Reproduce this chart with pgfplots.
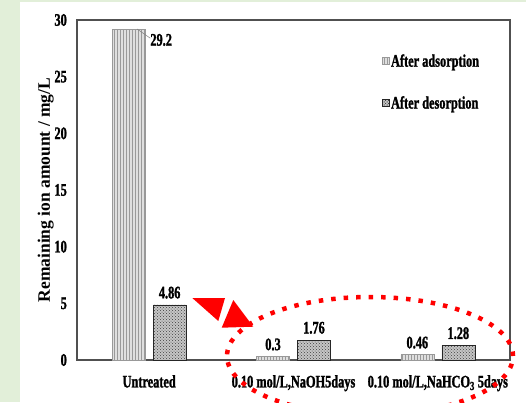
\documentclass[border=0pt]{standalone}
\usepackage{pgfplots}
\pgfplotsset{compat=1.18}
\usetikzlibrary{patterns}
\usepackage{fontspec}
\setmainfont{Liberation Serif}[FakeStretch=0.7, BoldFeatures={FakeBold=1.4}]
\newfontfamily\ylabfont{Liberation Serif}
\definecolor{bggreen}{RGB}{226,239,217}
\definecolor{axgray}{RGB}{80,80,80}
\newcommand{\lblfont}{\fontsize{17.6}{17.6}\selectfont\bfseries}
\begin{document}
\begin{tikzpicture}[x=1pt,y=1pt]
\useasboundingbox (0,0) rectangle (526,402);
\clip (0,0) rectangle (526,402);
\fill[white] (0,0) rectangle (526,402);
\fill[bggreen] (0,0) rectangle (20,402);
\fill[bggreen] (0,400) rectangle (526,402);
\begin{axis}[
  at={(77pt,42pt)}, anchor=south west,
  scale only axis, width=433pt, height=340pt,
  xmin=-0.5, xmax=2.5, ymin=0, ymax=30,
  ybar=8pt, bar width=33pt,
  axis line style={draw=axgray, line width=1.2pt},
  major tick length=0pt,
  xtick={0,1,2},
  xticklabels={Untreated, {0.10 mol/L,NaOH5days}, {0.10 mol/L,NaHCO\textsubscript{3}\,5days}},
  ytick={0,5,...,30},
  tick label style={font=\lblfont},
  /pgf/number format/assume math mode=true,
  yticklabel style={inner sep=0pt, xshift=-10pt, anchor=east},
  xticklabel style={inner sep=0pt, yshift=-15pt, anchor=north},
  ylabel={\ylabfont\bfseries Remaining ion amount / mg/L},
  ylabel style={at={(axis description cs:-0.053,0.5)}, anchor=south, inner sep=0pt, font=\fontsize{17.5}{17.5}\selectfont},
  legend style={draw=none, fill=none, at={(0.697,0.91)}, anchor=north west,
    font=\lblfont, row sep=25pt, nodes={inner sep=1.5pt}},
  legend cell align=left,
  clip=false,
]
\addplot[fill=gray!25, draw=gray!80, line width=0.6pt,
  postaction={pattern=vertical lines, pattern color=gray!80},
  legend image code/.code={\draw[fill=gray!25, draw=gray!80, postaction={pattern=vertical lines, pattern color=gray!80}] (0pt,-3.5pt) rectangle (7pt,3.5pt);}]
  coordinates {(0,29.2) (1,0.3) (2,0.46)};
\addlegendentry{After adsorption}
\addplot[fill=gray!45, draw=black!85, line width=0.6pt,
  postaction={pattern=crosshatch dots, pattern color=black!75},
  nodes near coords,
  every node near coord/.append style={font=\lblfont, inner sep=0pt, anchor=south, yshift=6pt, black},
  legend image code/.code={\draw[fill=gray!45, draw=black!85, postaction={pattern=crosshatch dots, pattern color=black!75}] (0pt,-3.5pt) rectangle (7pt,3.5pt);}]
  coordinates {(0,4.86) (1,1.76) (2,1.28)};
\addlegendentry{After desorption}
\draw[gray, line width=0.5pt] (axis cs:-0.083,29.2) -- (axis cs:0.007,28.4);
\node[anchor=west, inner sep=0pt, font=\lblfont] at (axis cs:0.007,28.24) {29.2};
\node[anchor=south, inner sep=0pt, font=\lblfont, xshift=-20.5pt, yshift=6pt] at (axis cs:1,0.3) {0.3};
\node[anchor=south, inner sep=0pt, font=\lblfont, xshift=-20.5pt, yshift=6pt] at (axis cs:2,0.46) {0.46};
\end{axis}
\draw[red, line width=4.5pt, dash pattern=on 4.5pt off 8pt] (370,46) ellipse [x radius=143, y radius=59];
\fill[red] (192.3,104) -- (225,104) -- (218.3,81) -- cycle;
\fill[red] (233.3,102) -- (221.7,74.3) -- (253.3,75.3) -- cycle;
\end{tikzpicture}
\end{document}
